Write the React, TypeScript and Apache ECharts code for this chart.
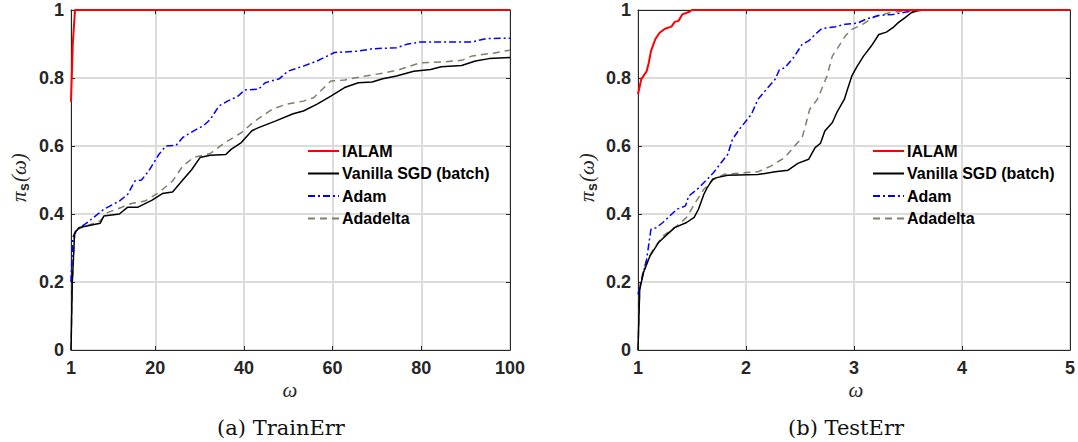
import React, { useEffect, useRef } from "react";
import * as echarts from "echarts";

// ---------- data ----------
const seriesNames = ["IALAM", "Vanilla SGD (batch)", "Adam", "Adadelta"];
const trainXTicks = [1, 20, 40, 60, 80, 100];

const trainIALAM = [[1, 0.73], [1.4, 0.9], [1.9, 1], [100, 1]];
const trainSGD = [
  [1, 0], [1.3, 0.2], [1.8, 0.34], [2.2, 0.35], [2.9, 0.36], [7.6, 0.373], [8.4, 0.394], [11.9, 0.4],
  [13.8, 0.42], [16.1, 0.42], [19.2, 0.44], [21.6, 0.46], [23.9, 0.465], [26.2, 0.5], [28.2, 0.53],
  [30.1, 0.566], [32.4, 0.573], [35.9, 0.575], [37.1, 0.59], [39.4, 0.61], [41.8, 0.645], [43.3, 0.654],
  [47.2, 0.674], [51.1, 0.695], [53.4, 0.703], [56.5, 0.723], [59.6, 0.747], [62.7, 0.772], [65.8, 0.786],
  [68.9, 0.788], [71.3, 0.798], [74.4, 0.806], [78.3, 0.82], [82.1, 0.825], [84.5, 0.833], [89.1, 0.837],
  [92.2, 0.85], [95.3, 0.857], [100, 0.86],
];
const trainAdam = [
  [1, 0.2], [1.4, 0.33], [2.2, 0.355], [3, 0.36], [4.5, 0.373], [8.4, 0.414], [11.9, 0.438], [13.8, 0.458],
  [15.4, 0.497], [16.9, 0.5], [18.5, 0.526], [20.8, 0.575], [22.4, 0.6], [24.7, 0.602], [26.2, 0.625],
  [28.6, 0.644], [30.9, 0.66], [32.4, 0.678], [34.4, 0.718], [36.3, 0.732], [38.7, 0.747], [40.2, 0.765],
  [43.3, 0.767], [44.8, 0.786], [48, 0.798], [49.9, 0.82], [53.4, 0.835], [56.5, 0.85], [60.4, 0.875],
  [65.8, 0.879], [68.9, 0.886], [74.4, 0.889], [76.7, 0.899], [79.8, 0.906], [91.5, 0.906], [94.6, 0.916],
  [100, 0.917],
];
const trainAdadelta = [
  [1, 0], [1.3, 0.2], [1.8, 0.34], [2.5, 0.355], [7.6, 0.38], [9.2, 0.404], [12.3, 0.419], [14.6, 0.431],
  [17.7, 0.438], [20.8, 0.463], [23.9, 0.497], [26.2, 0.541], [28.6, 0.566], [32.4, 0.578], [35.5, 0.608],
  [39.4, 0.639], [42.5, 0.674], [46.4, 0.708], [49.5, 0.723], [53.4, 0.732], [55.7, 0.742], [59.6, 0.791],
  [62.7, 0.794], [67.4, 0.806], [71.3, 0.814], [75.1, 0.825], [79.8, 0.845], [84.5, 0.847], [89.1, 0.852],
  [91.5, 0.865], [96.2, 0.873], [100, 0.882],
];

const testIALAM = [
  [1, 0.752], [1.03, 0.796], [1.08, 0.82], [1.1, 0.845], [1.12, 0.879], [1.16, 0.914], [1.2, 0.933],
  [1.25, 0.945], [1.31, 0.951], [1.34, 0.965], [1.375, 0.968], [1.41, 0.987], [1.47, 0.994], [1.5, 1], [5, 1],
];
const testSGD = [
  [1, 0], [1.016, 0.178], [1.05, 0.227], [1.11, 0.276], [1.19, 0.316], [1.27, 0.34], [1.34, 0.36],
  [1.45, 0.375], [1.52, 0.39], [1.56, 0.414], [1.61, 0.458], [1.64, 0.477], [1.69, 0.502], [1.73, 0.507],
  [1.83, 0.514], [2.11, 0.516], [2.27, 0.524], [2.39, 0.529], [2.48, 0.549], [2.58, 0.561], [2.64, 0.595],
  [2.69, 0.608], [2.73, 0.644], [2.8, 0.669], [2.84, 0.698], [2.91, 0.737], [2.94, 0.767], [2.98, 0.806],
  [3.03, 0.835], [3.09, 0.865], [3.16, 0.894], [3.23, 0.928], [3.3, 0.935], [3.36, 0.948], [3.41, 0.963],
  [3.47, 0.977], [3.53, 0.992], [3.58, 0.997], [3.64, 1], [5, 1],
];
const testAdam = [
  [1, 0.164], [1.05, 0.227], [1.08, 0.267], [1.12, 0.355], [1.17, 0.36], [1.23, 0.375], [1.28, 0.39],
  [1.36, 0.414], [1.44, 0.424], [1.47, 0.453], [1.55, 0.473], [1.625, 0.497], [1.7, 0.522], [1.77, 0.551],
  [1.83, 0.575], [1.875, 0.62], [1.95, 0.654], [2.05, 0.693], [2.11, 0.737], [2.19, 0.767], [2.27, 0.796],
  [2.31, 0.825], [2.36, 0.83], [2.44, 0.86], [2.52, 0.899], [2.58, 0.909], [2.64, 0.928], [2.7, 0.945],
  [2.83, 0.951], [2.92, 0.958], [3.03, 0.961], [3.11, 0.973], [3.23, 0.984], [3.36, 0.987], [3.48, 0.994],
  [3.58, 0.999], [3.67, 1], [5, 1],
];
const testAdadelta = [
  [1, 0], [1.016, 0.188], [1.06, 0.247], [1.14, 0.296], [1.23, 0.335], [1.36, 0.365], [1.45, 0.39],
  [1.53, 0.433], [1.61, 0.473], [1.7, 0.502], [1.8, 0.517], [2.11, 0.524], [2.23, 0.541], [2.36, 0.566],
  [2.45, 0.6], [2.52, 0.625], [2.55, 0.659], [2.59, 0.708], [2.66, 0.737], [2.7, 0.767], [2.75, 0.806],
  [2.8, 0.865], [2.86, 0.894], [2.92, 0.924], [2.98, 0.943], [3.08, 0.958], [3.2, 0.982], [3.36, 0.994],
  [3.48, 0.997], [3.61, 1], [5, 1],
];

const captions = ["(a) TrainErr", "(b) TestErr"];

// ---------- styles ----------
const AX = "#262626";
const GRIDC = "#dcdcdc";
const lineStyles = [
  { color: "#ff0000", width: 2, type: "solid" },
  { color: "#000000", width: 1.5, type: "solid" },
  { color: "#0000ff", width: 1.5, type: [7, 3, 2, 3] },
  { color: "#7f7f6a", width: 1.5, type: [7, 5] },
];

export default function App() {
  const ref = useRef<HTMLDivElement>(null);

  useEffect(() => {
    document.body.style.margin = "0";
    if (!ref.current) return;
    const chart = echarts.init(ref.current, null, { renderer: "svg" });

    const tickLabel = { color: AX, fontWeight: "bold", fontSize: 18, fontFamily: "Liberation Sans" };
    const grids = [
      { left: 71, top: 10, width: 439, height: 340 },
      { left: 638, top: 10, width: 437, height: 340 },
    ];

    const xBottom = (gi: number) => {
      const base: any = {
        type: "value",
        gridIndex: gi,
        position: "bottom",
        axisLine: { show: true, onZero: false, lineStyle: { color: AX, width: 1 } },
        axisTick: { show: true, inside: true, length: 4, lineStyle: { color: AX } },
        axisLabel: { ...tickLabel, margin: 9 },
        splitLine: { show: true, lineStyle: { color: GRIDC, width: 2, type: "solid", opacity: 1 } },
      };
      if (gi === 0) {
        base.min = 1;
        base.max = 100;
        base.axisTick.customValues = trainXTicks;
        base.axisLabel.customValues = trainXTicks;
      } else {
        base.min = 1;
        base.max = 5;
        base.interval = 1;
      }
      return base;
    };
    const xTop = (gi: number) => {
      const b = xBottom(gi);
      b.position = "top";
      b.axisLabel = { ...b.axisLabel, show: false };
      b.splitLine = { show: false };
      return b;
    };
    const yLeft = (gi: number) => ({
      type: "value",
      gridIndex: gi,
      position: "left",
      min: 0,
      max: 1,
      interval: 0.2,
      axisLine: { show: true, onZero: false, lineStyle: { color: AX, width: 1 } },
      axisTick: { show: true, inside: true, length: 4, lineStyle: { color: AX } },
      axisLabel: { ...tickLabel, margin: 7 },
      splitLine: { show: true, lineStyle: { color: GRIDC, width: 2, type: "solid", opacity: 1 } },
    });
    const yRight = (gi: number) => ({
      ...yLeft(gi),
      position: "right",
      axisLabel: { show: false },
      splitLine: { show: false },
    });

    const trainData = [trainIALAM, trainSGD, trainAdam, trainAdadelta];
    const testData = [testIALAM, testSGD, testAdam, testAdadelta];
    const series: any[] = [];
    [trainData, testData].forEach((set, gi) => {
      set.forEach((d, i) => {
        series.push({
          type: "line",
          name: seriesNames[i],
          xAxisIndex: gi * 2,
          yAxisIndex: gi * 2,
          data: d,
          symbol: "none",
          showSymbol: false,
          lineStyle: lineStyles[i],
          itemStyle: { color: lineStyles[i].color },
          z: 10 - i,
          clip: true,
        });
      });
    });

    const legendBase = (left: number) => ({
      orient: "vertical",
      left,
      top: 143,
      padding: 0,
      itemWidth: 31,
      itemHeight: 14,
      itemGap: 6.5,
      itemStyle: { opacity: 0 },
      textStyle: { color: "#000", fontWeight: "bold", fontSize: 16, fontFamily: "Liberation Sans", padding: [0, 0, 0, -2] },
      data: seriesNames,
      selectedMode: false,
    });

    const yLabel = (cx: number) => ({
      type: "group",
      x: cx,
      y: 177,
      rotation: Math.PI / 2,
      children: [
        { type: "text", x: -25, y: 0, style: { text: "π", font: 'italic 21px "Liberation Serif"', fill: AX, align: "left", verticalAlign: "middle" } },
        { type: "text", x: -14, y: 5, style: { text: "s", font: 'bold 14px "Liberation Sans"', fill: AX, align: "left", verticalAlign: "middle" } },
        { type: "text", x: -5, y: 0, style: { text: "(ω)", font: 'italic 21px "Liberation Serif"', fill: AX, align: "left", verticalAlign: "middle" } },
      ],
    });
    const xLabel = (cx: number) => ({
      type: "text",
      x: cx,
      y: 390,
      style: { text: "ω", font: 'italic 21px "Liberation Serif"', fill: AX, align: "center", verticalAlign: "middle" },
    });
    const caption = (cx: number, t: string) => ({
      type: "text",
      x: cx,
      y: 428,
      style: { text: t, font: '21px "DejaVu Serif"', fill: "#111", align: "center", verticalAlign: "middle" },
    });

    chart.setOption({
      animation: false,
      backgroundColor: "#ffffff",
      grid: grids,
      xAxis: [xBottom(0), xTop(0), xBottom(1), xTop(1)],
      yAxis: [yLeft(0), yRight(0), yLeft(1), yRight(1)],
      legend: [legendBase(307), legendBase(872)],
      series,
      graphic: [
        yLabel(19),
        yLabel(587),
        xLabel(290),
        xLabel(856),
        caption(281, captions[0]),
        caption(846, captions[1]),
      ],
    });

    return () => chart.dispose();
  }, []);

  return <div ref={ref} style={{ width: 1078, height: 442 }} />;
}
